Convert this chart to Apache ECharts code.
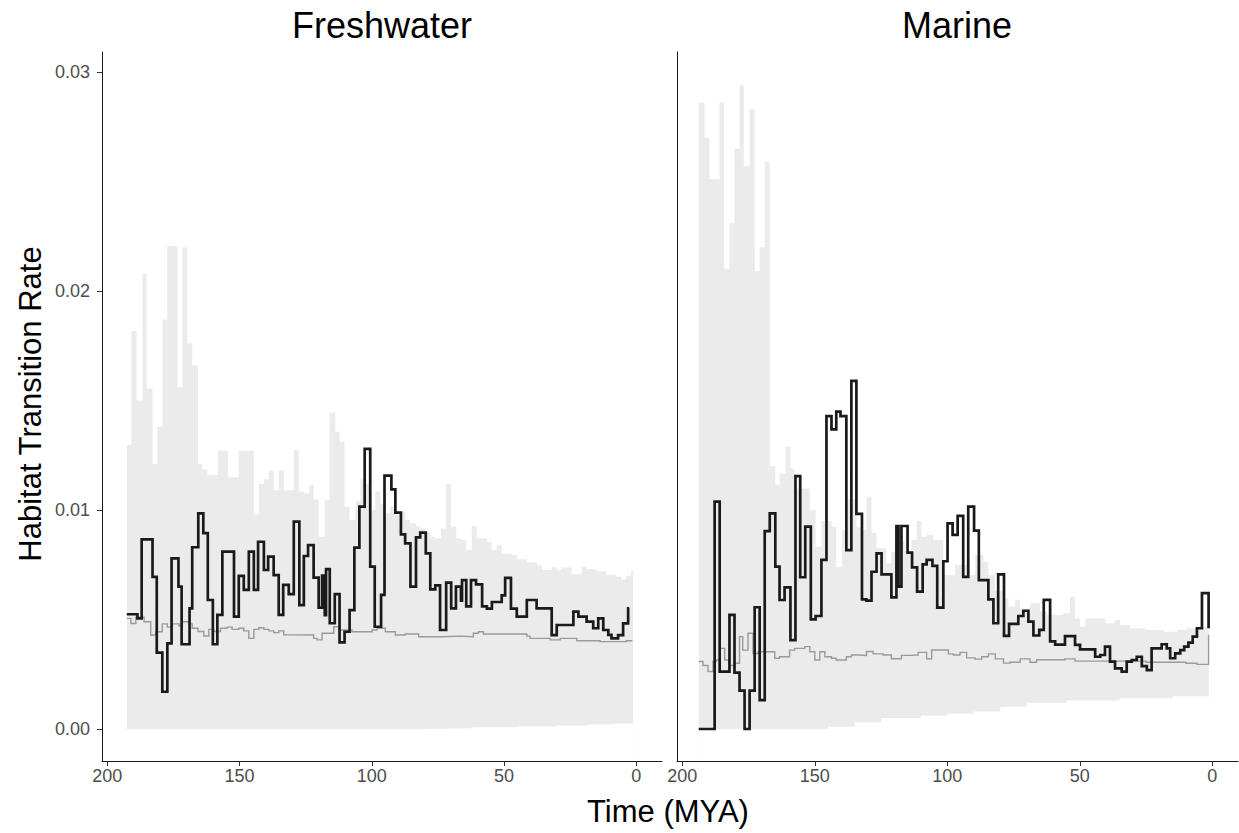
<!DOCTYPE html>
<html>
<head>
<meta charset="utf-8">
<title>Habitat transition rate</title>
<script src="https://cdn.jsdelivr.net/npm/echarts@6/dist/echarts.min.js"></script>
<style>
  html, body { margin: 0; padding: 0; background: #fff; }
  #chart { width: 1239px; height: 833px; }
</style>
</head>
<body>
<div id="chart"></div>
<script>
/* values: time (MYA) where each step starts, rate of that step */

// freshwater
const fwBandTime = [192.6,190.9,188.9,186.7,185.1,182.9,181.1,179.2,177.3,173.5,171.6,169.8,167.9,165.7,164.1,162.2,158.2,154.4,150.3,144.6,142.7,140.8,138.9,137.1,135.2,133.3,129.5,127.6,125.7,123.6,122.0,120.1,117.8,116.0,113.8,112.2,110.3,108.4,106.2,104.3,102.5,100.6,98.7,96.8,94.9,93.0,91.1,89.3,87.4,85.5,83.3,81.7,79.8,77.7,76.0,73.9,71.9,70.1,68.1,66.3,64.3,62.2,60.3,56.5,54.7,52.8,50.9,47.1,45.2,41.4,37.6,35.7,32.0,30.1,28.2,24.4,20.7,18.8,15.0,11.3,7.5,5.7,3.8,1.9];
const fwBandHigh = [0.01297,0.01817,0.0150,0.0208,0.01555,0.0121,0.0138,0.0187,0.02205,0.0156,0.0220,0.0176,0.0166,0.0121,0.01185,0.0116,0.0127,0.0115,0.0127,0.0098,0.0112,0.0114,0.0118,0.0109,0.0118,0.0109,0.01274,0.01084,0.01076,0.01114,0.01048,0.00878,0.01045,0.01444,0.01357,0.01312,0.01015,0.00954,0.01041,0.0114,0.0112,0.0100,0.01084,0.01027,0.00985,0.01015,0.00977,0.00992,0.00954,0.00939,0.00924,0.00916,0.00901,0.00878,0.00871,0.00916,0.01119,0.00924,0.0087,0.00863,0.00817,0.00927,0.0087,0.00855,0.00817,0.0084,0.0080,0.00795,0.00775,0.0076,0.00749,0.00726,0.0074,0.00726,0.00738,0.00707,0.0074,0.0073,0.0072,0.00703,0.00695,0.00683,0.0070,0.00726];
const fwLowTime = [192.6,80,62,45,30,18,8];
const fwBandLow = [0,0.00003,0.00008,0.00012,0.00016,0.0002,0.00025];
const fwObsTime = [192.6,188.6,187.0,182.9,181.3,179.2,177.3,175.7,173.1,171.9,168.9,167.9,165.6,163.7,162.0,160.1,158.4,156.5,152.1,150.3,148.4,146.5,144.6,143.0,140.8,139.2,137.1,135.2,133.5,131.4,129.5,127.4,125.7,124.1,122.0,120.1,118.8,117.8,117.3,115.9,114.0,112.2,110.3,108.4,106.6,104.7,102.7,100.6,98.9,96.5,95.2,92.6,91.1,89.0,87.4,85.4,83.3,81.7,79.6,77.9,76.0,74.2,71.9,70.0,68.2,66.3,65.9,64.3,62.5,60.6,58.3,56.5,54.6,50.9,49.6,47.4,45.2,41.4,37.7,32.0,30.1,23.8,21.9,18.8,16.3,14.4,12.5,10.6,9.4,6.9,5.0,3.1];
const fwObsRate = [0.00524,0.00505,0.00866,0.00695,0.00349,0.0017,0.00391,0.00779,0.0065,0.00387,0.00551,0.0083,0.00985,0.00894,0.00589,0.00387,0.00521,0.0081,0.00513,0.00699,0.00635,0.0081,0.00635,0.00855,0.00726,0.00787,0.00703,0.00521,0.00658,0.00616,0.00947,0.00566,0.0079,0.0084,0.00691,0.00554,0.0070,0.0052,0.0073,0.00483,0.00616,0.00396,0.00444,0.00543,0.00828,0.01015,0.01279,0.00741,0.00467,0.00612,0.01157,0.01094,0.00988,0.00889,0.00848,0.0065,0.00875,0.00897,0.00802,0.00638,0.00656,0.00452,0.00668,0.00551,0.0065,0.00586,0.0068,0.0056,0.0068,0.0066,0.0056,0.0055,0.0058,0.0061,0.0069,0.0055,0.00513,0.00589,0.00551,0.00429,0.00475,0.00536,0.00513,0.0049,0.0046,0.00505,0.00452,0.0043,0.00414,0.00429,0.00482,0.00551];
const fwSimTime = [192.6,191.1,189.2,186.1,183.6,181.7,179.2,177.3,175.4,172.9,171.6,169.1,167.9,165.7,163.5,161.6,159.7,157.2,154.7,152.8,150.3,148.4,146.5,144.6,142.7,140.8,138.9,137.1,135.2,133.3,129.5,122.0,120.7,118.8,114.4,112.5,107.5,99.9,98.0,94.9,91.1,87.4,82.3,73.4,66.6,61.6,59.7,57.8,41.4,40.2,32.6,28.8,22.5,13.7,3.7];
const fwSimRate = [0.00505,0.00482,0.0051,0.0049,0.00429,0.00444,0.0048,0.00465,0.0048,0.0047,0.0049,0.0048,0.0046,0.00445,0.00425,0.00455,0.00445,0.0046,0.00465,0.00455,0.0046,0.00448,0.00414,0.00455,0.00462,0.00455,0.00448,0.0044,0.00448,0.0043,0.00429,0.00414,0.00407,0.00437,0.00467,0.00452,0.00444,0.00452,0.0046,0.00444,0.00429,0.00434,0.00421,0.00424,0.00421,0.00437,0.00444,0.00434,0.00424,0.00414,0.00407,0.00414,0.00403,0.00399,0.00403];

// marine
const mrBandTime = [193.8,191.6,189.7,186.0,184.3,182.2,180.3,178.4,176.8,174.6,172.7,170.8,168.9,167.0,164.9,163.3,161.0,159.2,157.6,151.9,149.7,147.5,143.7,141.9,139.7,138.1,134.3,132.4,130.5,128.6,126.7,123.0,121.1,119.2,116.0,113.5,111.6,109.7,107.8,105.3,101.5,97.1,91.4,89.5,86.4,84.5,82.0,78.8,76.9,74.4,72.5,68.8,65.0,62.5,56.2,53.7,51.8,49.9,48.0,40.5,36.7,34.8,31.0,25.4,18.4,13.4,9.7,5.8];
const mrBandHigh = [0.0286,0.0270,0.0251,0.0286,0.0210,0.0231,0.0265,0.0294,0.0257,0.0283,0.0209,0.0220,0.0259,0.0120,0.01114,0.01167,0.0129,0.0119,0.01098,0.0100,0.00832,0.0095,0.00924,0.0074,0.0091,0.0105,0.0092,0.0091,0.0106,0.00896,0.00825,0.00756,0.0081,0.0086,0.0081,0.00863,0.0095,0.00878,0.00886,0.00863,0.00703,0.00749,0.00703,0.00794,0.00764,0.00703,0.0063,0.00597,0.00559,0.0059,0.0055,0.00574,0.00536,0.0052,0.0053,0.00604,0.00505,0.00467,0.00505,0.00483,0.00498,0.00475,0.0046,0.00452,0.00444,0.00452,0.0046,0.00467];
const mrLowTime = [193.8,145,135,125,110,100,90,80,70,55,35,15];
const mrBandLow = [0,0.0001,0.0003,0.0005,0.0006,0.0007,0.0008,0.0010,0.0012,0.0013,0.0014,0.0015];
const mrObsTime = [193.8,187.8,185.9,182.2,180.3,178.4,176.5,174.6,172.7,170.8,168.9,167.0,164.9,163.3,161.4,159.2,157.3,155.5,153.6,151.5,149.7,147.5,145.6,143.7,141.9,140.3,138.1,136.2,134.3,132.2,130.5,128.6,126.7,124.8,121.1,119.2,118.4,117.3,115.0,113.3,111.4,109.3,107.8,105.6,103.8,101.5,99.9,98.0,96.1,94.0,92.1,89.9,88.1,84.5,82.6,80.8,78.6,76.7,73.2,71.3,69.4,67.5,65.3,63.6,61.2,59.3,55.6,51.8,49.9,44.2,42.3,40.5,38.6,36.7,34.2,32.3,30.4,28.5,26.6,24.7,22.9,19.1,17.2,15.9,14.0,12.1,10.6,9.0,7.4,5.8,3.9,1.4];
const mrObsRate = [0,0.01038,0.00262,0.00521,0.00257,0.00175,0,0.00175,0.00556,0.00132,0.00904,0.00985,0.00741,0.00589,0.00647,0.00406,0.01155,0.00693,0.00924,0.00501,0.00516,0.00772,0.01429,0.01368,0.01449,0.01429,0.00817,0.0159,0.00982,0.00592,0.00586,0.00718,0.00802,0.00706,0.00601,0.00927,0.0065,0.00927,0.00805,0.00738,0.00627,0.00752,0.00772,0.00745,0.00554,0.00766,0.00939,0.00886,0.00973,0.00695,0.01015,0.00906,0.0068,0.00592,0.00483,0.00706,0.00425,0.0048,0.00516,0.0054,0.0049,0.00427,0.00453,0.0059,0.0040,0.00385,0.00424,0.00384,0.00364,0.0033,0.00338,0.00376,0.00308,0.00277,0.00262,0.00308,0.00315,0.0033,0.00287,0.00269,0.00368,0.00387,0.00368,0.00323,0.00345,0.0036,0.00376,0.00394,0.00422,0.0046,0.0062,0.0046];
const mrSimTime = [193.8,192.2,190.3,188.4,187.2,185.9,184.0,182.2,180.3,178.4,177.2,175.2,173.3,171.4,165.1,163.3,159.5,157.6,153.8,151.9,150.0,148.1,146.2,143.7,141.9,138.1,136.2,133.0,130.5,128.0,124.2,121.1,117.3,114.1,111.0,107.8,105.9,99.6,97.7,95.2,92.7,89.5,87.0,84.5,81.9,78.8,76.3,72.5,68.8,66.3,55.6,51.8,40,25,10,5.8,1.4];
const mrSimRate = [0.00308,0.0029,0.00262,0.00308,0.00315,0.00368,0.00315,0.0029,0.003,0.00422,0.0036,0.00437,0.00345,0.00353,0.00323,0.0033,0.0036,0.00368,0.00376,0.00353,0.00315,0.00353,0.0033,0.00323,0.00315,0.0033,0.00338,0.00336,0.00354,0.00343,0.00338,0.00321,0.00336,0.00338,0.0035,0.00321,0.00361,0.00343,0.00338,0.0035,0.00325,0.00319,0.0033,0.00343,0.0032,0.00301,0.00305,0.0032,0.00305,0.00316,0.0032,0.0031,0.0031,0.00305,0.003,0.00295,0.0043];

const panelNames = ['Freshwater', 'Marine'];
const xTicks = [200, 150, 100, 50, 0];
const yTicks = [0, 0.01, 0.02, 0.03];

const FONT = '"Liberation Sans", Arial, Helvetica, sans-serif';

// step series: each point opens a step that runs to the next point
function stepData(times, rates, end) {
  const d = times.map((t, i) => [t, rates[i]]);
  d.push([end, rates[rates.length - 1]]);
  return d;
}

function panelSeries(idx, band, low, sim, obs) {
  const base = { type: 'line', xAxisIndex: idx, yAxisIndex: idx, step: 'end', symbol: 'none', silent: true, animation: false };
  return [
    Object.assign({}, base, { z: 1, data: band, lineStyle: { width: 0 }, areaStyle: { color: '#ebebeb', opacity: 1, origin: 'start' } }),
    Object.assign({}, base, { z: 1, data: low, lineStyle: { width: 0 }, areaStyle: { color: '#ffffff', opacity: 1, origin: 'start' } }),
    Object.assign({}, base, { z: 3, data: sim, lineStyle: { color: '#9a9a9a', width: 1.4, join: 'miter' } }),
    Object.assign({}, base, { z: 4, data: obs, lineStyle: { color: '#1a1a1a', width: 2.7, join: 'miter' } })
  ];
}

const grids = [
  { left: 102, top: 52, width: 560, height: 709 },
  { left: 677, top: 52, width: 561, height: 709 }
];

function xAxisFor(i) {
  return {
    type: 'value', gridIndex: i, inverse: true, min: -9.7, max: 202, z: 10,
    axisLine: { onZero: false, lineStyle: { color: '#1a1a1a', width: 1 } },
    axisTick: { customValues: xTicks, length: 5, lineStyle: { color: '#333' } },
    axisLabel: { customValues: xTicks, margin: 6, fontSize: 18, color: '#4d4d4d', fontFamily: FONT },
    splitLine: { show: false }
  };
}

function yAxisFor(i) {
  return {
    type: 'value', gridIndex: i, min: -0.001461, max: 0.030913, z: 10,
    axisLine: { show: true, onZero: false, lineStyle: { color: '#1a1a1a', width: 1 } },
    axisTick: { show: i === 0, customValues: yTicks, length: 5, lineStyle: { color: '#333' } },
    axisLabel: { show: i === 0, customValues: yTicks, margin: 12, fontSize: 18, color: '#4d4d4d', fontFamily: FONT,
      formatter: v => v.toFixed(2) },
    splitLine: { show: false }
  };
}

const chart = echarts.init(document.getElementById('chart'), null, { renderer: 'svg' });

const option = {
  backgroundColor: '#fff',
  animation: false,
  grid: grids,
  xAxis: [xAxisFor(0), xAxisFor(1)],
  yAxis: [yAxisFor(0), yAxisFor(1)],
  graphic: [
    { type: 'text', x: 382, y: 25, style: { text: panelNames[0], font: '36px ' + FONT, fill: '#000', textAlign: 'center', textVerticalAlign: 'middle' } },
    { type: 'text', x: 957, y: 25, style: { text: panelNames[1], font: '36px ' + FONT, fill: '#000', textAlign: 'center', textVerticalAlign: 'middle' } },
    { type: 'text', x: 668, y: 811, style: { text: 'Time (MYA)', font: '31px ' + FONT, fill: '#000', textAlign: 'center', textVerticalAlign: 'middle' } },
    { type: 'text', x: 30, y: 404, rotation: Math.PI / 2, style: { text: 'Habitat Transition Rate', font: '31px ' + FONT, fill: '#000', textAlign: 'center', textVerticalAlign: 'middle' } }
  ],
  series: [].concat(
    panelSeries(0,
      stepData(fwBandTime, fwBandHigh, 1.2),
      stepData(fwLowTime, fwBandLow, 1.2),
      stepData(fwSimTime, fwSimRate, 1.5),
      stepData(fwObsTime, fwObsRate, 2.7)),
    panelSeries(1,
      stepData(mrBandTime, mrBandHigh, 1.3),
      stepData(mrLowTime, mrBandLow, 1.3),
      stepData(mrSimTime, mrSimRate, 1.4),
      stepData(mrObsTime, mrObsRate, 1.4))
  )
};

chart.setOption(option);
</script>
</body>
</html>
